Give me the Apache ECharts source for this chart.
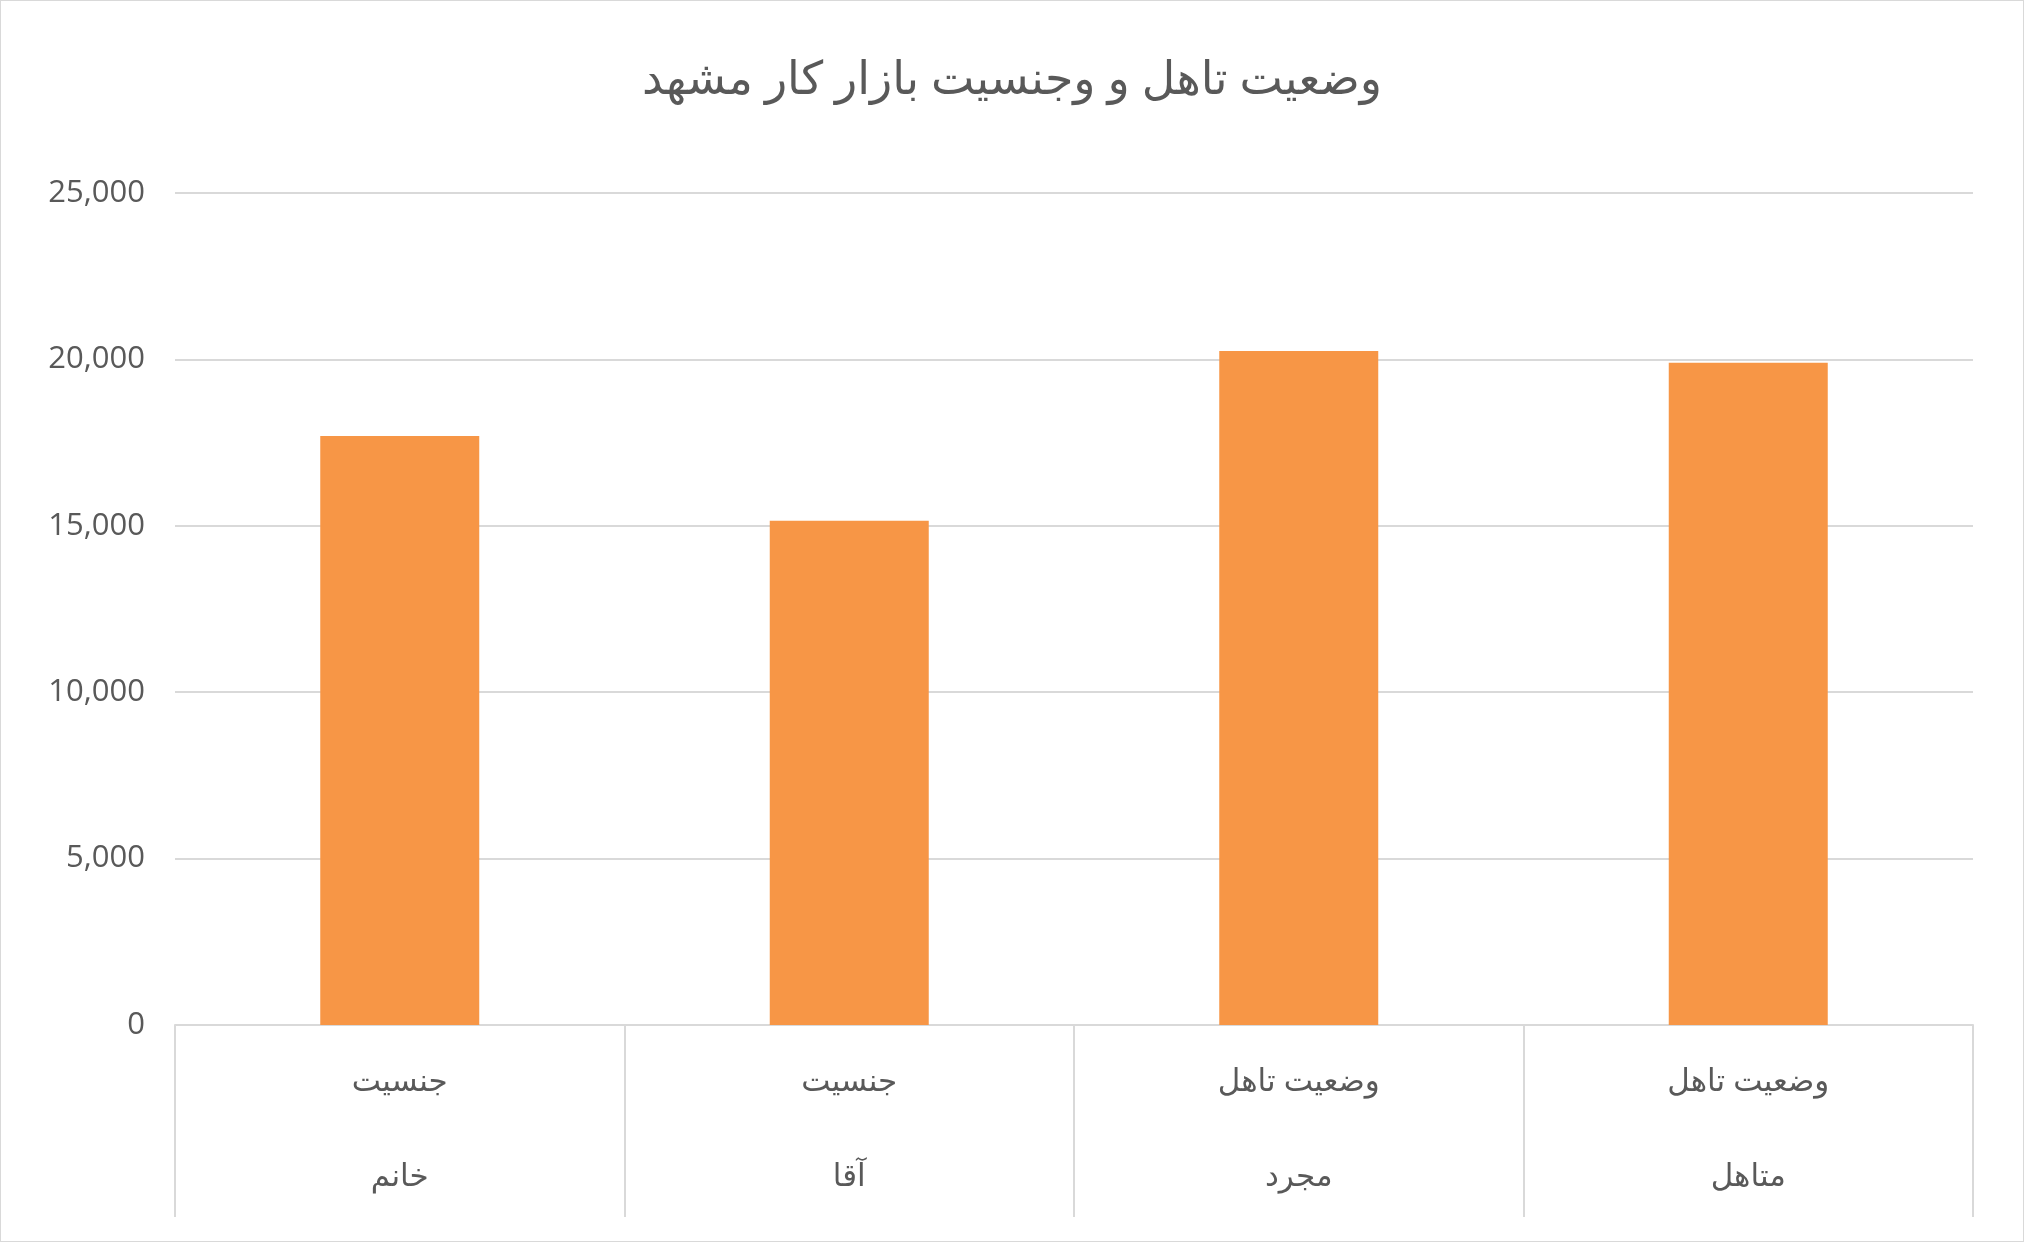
<!DOCTYPE html>
<html><head><meta charset="utf-8">
<script src="https://cdn.jsdelivr.net/npm/echarts@6/dist/echarts.min.js"></script>
<style>html,body{margin:0;padding:0;background:#fff}#c{width:2022px;height:1240px;border:1px solid #d9d9d9}</style>
</head><body><div id="c"></div>
<script>
const groupLabels = ['جنسیت','جنسیت','وضعیت تاهل','وضعیت تاهل'];
const subLabels = ['خانم','آقا','مجرد','متاهل'];
const values = [17700, 15150, 20250, 19900];
const yTicks = {min:0, max:25000, interval:5000};
const font = "'Open Sans','DejaVu Sans',sans-serif";
const chart = echarts.init(document.getElementById('c'));
chart.setOption({
  title:{text:'وضعیت تاهل و وجنسیت بازار کار مشهد',left:'center',top:52,textStyle:{fontFamily:font,fontSize:46,fontWeight:'normal',color:'#595959'}},
  grid:{left:174,right:50,top:192,bottom:216},
  xAxis:{type:'category',data:groupLabels.map((g,i)=>g+'\n'+subLabels[i]),
    axisLine:{lineStyle:{color:'#d9d9d9',width:2}},
    axisTick:{show:true,length:192,lineStyle:{color:'#d9d9d9',width:2}},
    axisLabel:{fontFamily:font,fontSize:31,color:'#595959',lineHeight:95,margin:10}},
  yAxis:{type:'value',min:yTicks.min,max:yTicks.max,interval:yTicks.interval,
    axisLine:{show:false},axisTick:{show:false},
    splitLine:{lineStyle:{color:'#d9d9d9',width:2}},
    axisLabel:{fontFamily:font,fontSize:31,color:'#595959',margin:30}},
  series:[{type:'bar',data:values,barWidth:159,itemStyle:{color:'#f79646'}}]
});
</script></body></html>
